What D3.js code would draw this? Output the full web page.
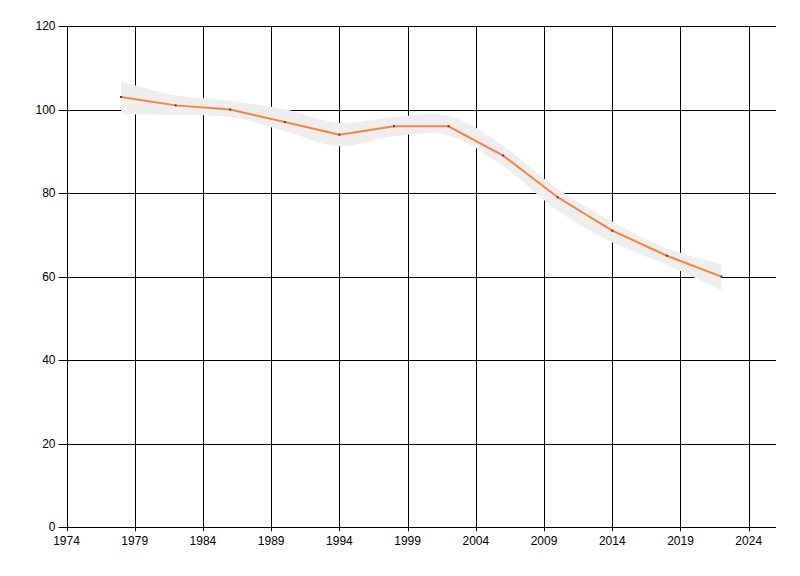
<!DOCTYPE html>
<html>
<head>
<meta charset="utf-8">
<script src="https://cdn.jsdelivr.net/npm/d3@7"></script>
<style>
  body { margin: 0; background: #fff; }
  svg text { font-family: "Liberation Sans", Arial, sans-serif; font-size: 12px; fill: #000; }
</style>
</head>
<body>
<svg id="chart" width="800" height="576"></svg>
<script>
// DATA
const years = [1978, 1982, 1986, 1990, 1994, 1998, 2002, 2006, 2010, 2014, 2018, 2022];
const values = [103, 101, 100, 97, 94, 96, 96, 89, 79, 71, 65, 60];
const upper = [106.8, 103.4, 102.1, 100.1, 96.8, 98.2, 98.5, 91.3, 81, 73.2, 66.8, 63];
const lower = [98.9, 98.7, 98.2, 94.8, 91.2, 93.6, 93.8, 86.4, 75.8, 68.2, 62.8, 56.8];
const xTicks = [1974, 1979, 1984, 1989, 1994, 1999, 2004, 2009, 2014, 2019, 2024];
const yTicks = [0, 20, 40, 60, 80, 100, 120];

const svg = d3.select('#chart');
const plotLeft = 66.5, plotRight = 776, plotTop = 26, plotBottom = 527.3;

const x = d3.scaleLinear().domain([1974, 2026]).range([plotLeft, plotRight]);
const y = d3.scaleLinear().domain([0, 120]).range([plotBottom, plotTop]);

// grid lines
svg.append('g')
  .selectAll('line')
  .data(xTicks)
  .join('line')
  .attr('x1', (d) => Math.round(x(d)) + 0.5)
  .attr('x2', (d) => Math.round(x(d)) + 0.5)
  .attr('y1', plotTop)
  .attr('y2', plotBottom + 4)
  .attr('stroke', '#000');

svg.append('g')
  .selectAll('line')
  .data(yTicks)
  .join('line')
  .attr('x1', plotLeft - 8)
  .attr('x2', plotRight)
  .attr('y1', (d) => Math.round(y(d)) + 0.5)
  .attr('y2', (d) => Math.round(y(d)) + 0.5)
  .attr('stroke', '#000');

// confidence band
const band = years.map((yr, i) => ({ yr, hi: upper[i], lo: lower[i] }));
svg.append('path')
  .datum(band)
  .attr('fill', '#eeeeee')
  .attr('d', d3.area()
    .curve(d3.curveCatmullRom)
    .x((d) => x(d.yr))
    .y0((d) => y(d.lo))
    .y1((d) => y(d.hi)));

// line
const pts = years.map((yr, i) => ({ yr, v: values[i] }));
svg.append('path')
  .datum(pts)
  .attr('fill', 'none')
  .attr('stroke', '#ff7f3c')
  .attr('stroke-width', 2)
  .attr('d', d3.line().x((d) => x(d.yr)).y((d) => y(d.v)));

svg.append('g')
  .selectAll('rect')
  .data(pts)
  .join('rect')
  .attr('x', (d) => x(d.yr) - 1)
  .attr('y', (d) => y(d.v) - 1)
  .attr('width', 2)
  .attr('height', 2)
  .attr('fill', '#444');

// tick labels
svg.append('g')
  .selectAll('text')
  .data(yTicks)
  .join('text')
  .attr('x', plotLeft - 11)
  .attr('y', (d) => y(d) + 4)
  .attr('text-anchor', 'end')
  .text((d) => d);

svg.append('g')
  .selectAll('text')
  .data(xTicks)
  .join('text')
  .attr('x', (d) => x(d))
  .attr('y', plotBottom + 18)
  .attr('text-anchor', 'middle')
  .text((d) => d);
</script>
</body>
</html>
